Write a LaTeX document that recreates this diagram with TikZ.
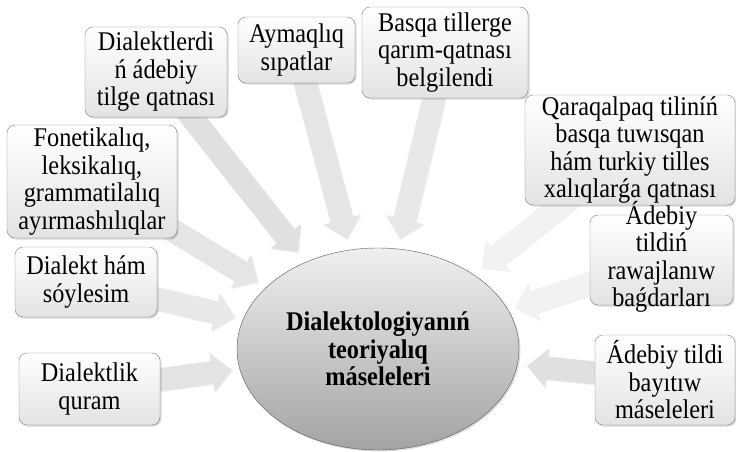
\documentclass[tikz,border=0pt]{standalone}
\usepackage{fontspec}
\setmainfont{Liberation Serif}[FakeStretch=0.9]
\usetikzlibrary{calc, shapes.geometric, shadows, backgrounds}

\newcommand\boxfont{\fontsize{27}{27.5}\selectfont}
\newcommand\corefont{\fontsize{27}{27.5}\selectfont\bfseries}
\newcommand\fatarrow[3][black!10]{%
  \coordinate (fa-h) at ($(#3)!20pt!(#2.center)$);
  \fill[#1, drop shadow={opacity=.12, shadow xshift=1pt, shadow yshift=-1pt}]
    ($(#2.center)!11.5pt!90:(#3)$) -- ($(fa-h)!11.5pt!90:(#3)$) -- ($(fa-h)!19.5pt!90:(#3)$)
    -- (#3) -- ($(fa-h)!19.5pt!-90:(#3)$) -- ($(fa-h)!11.5pt!-90:(#3)$)
    -- ($(#2.center)!11.5pt!-90:(#3)$) -- cycle;}

\tikzset{
  topic/.style={draw=black!50, rounded corners=8pt, top color=white, bottom color=black!11,
    align=center, inner sep=1pt, font=\boxfont,
    drop shadow={opacity=.3, shadow xshift=1.5pt, shadow yshift=-1.5pt}},
  core/.style={ellipse, draw=black!65, top color=black!6, bottom color=black!36,
    align=center, font=\corefont,
    drop shadow={opacity=.25, shadow xshift=1.5pt, shadow yshift=-1.5pt}},
}

\begin{document}
\begin{tikzpicture}[x=1pt, y=-1pt]
  \useasboundingbox (0,0) rectangle (736,451);

  \node[core, minimum width=282, minimum height=202] (main) at (378,349)
       {Dialektologiyanıń\\teoriyalıq\\máseleleri};

  \node[topic, minimum width=142, minimum height=90]  (dial)  at (156,72)    {Dialektlerdi\\ń ádebiy\\tilge qatnası};
  \node[topic, minimum width=117, minimum height=66]  (aym)   at (296.5,50)  {Aymaqlıq\\sıpatlar};
  \node[topic, minimum width=166, minimum height=91]  (basqa) at (445,52.5)  {Basqa tillerge\\qarım-qatnası\\belgilendi};
  \node[topic, minimum width=210, minimum height=110] (qar)   at (630,150)   {Qaraqalpaq tiliníń\\basqa tuwısqan\\hám turkiy tilles\\xalıqlarǵa qatnası};
  \node[topic, minimum width=170, minimum height=113] (fon)   at (92,181.5)  {Fonetikalıq,\\leksikalıq,\\grammatilalıq\\ayırmashılıqlar};
  \node[topic, minimum width=143, minimum height=90]  (rawaj) at (661.5,260) {};
  \node[align=center, font=\boxfont] (rawajtxt) at ($(rawaj.center)+(0,-3)$)
       {Ádebiy\\tildiń\\rawajlanıw\\baǵdarları};
  \node[topic, minimum width=142, minimum height=70]  (soy)   at (86,282)    {Dialekt hám\\sóylesim};
  \node[topic, minimum width=141, minimum height=72]  (quram) at (89.5,389)  {Dialektlik\\quram};
  \node[topic, minimum width=140, minimum height=90]  (bay)   at (665,380)   {Ádebiy tildi\\bayıtıw\\máseleleri};

  % arrow tips, next to the ellipse
  \coordinate (t1) at (298,252);
  \coordinate (t2) at (347,239);
  \coordinate (t3) at (400,239);
  \coordinate (t4) at (482,268);
  \coordinate (t5) at (515,308);
  \coordinate (t6) at (527,366);
  \coordinate (t7) at (258,282);
  \coordinate (t8) at (235,317);
  \coordinate (t9) at (232,370);

  \begin{scope}[on background layer]
    \fatarrow[black!12]{dial}{t1}
    \fatarrow[black!10]{aym}{t2}
    \fatarrow[black!9]{basqa}{t3}
    \fatarrow[black!5]{qar}{t4}
    \fatarrow[black!5]{rawaj}{t5}
    \fatarrow[black!12]{bay}{t6}
    \fatarrow[black!10]{fon}{t7}
    \fatarrow[black!9]{soy}{t8}
    \fatarrow[black!11]{quram}{t9}
  \end{scope}
\end{tikzpicture}
\end{document}
